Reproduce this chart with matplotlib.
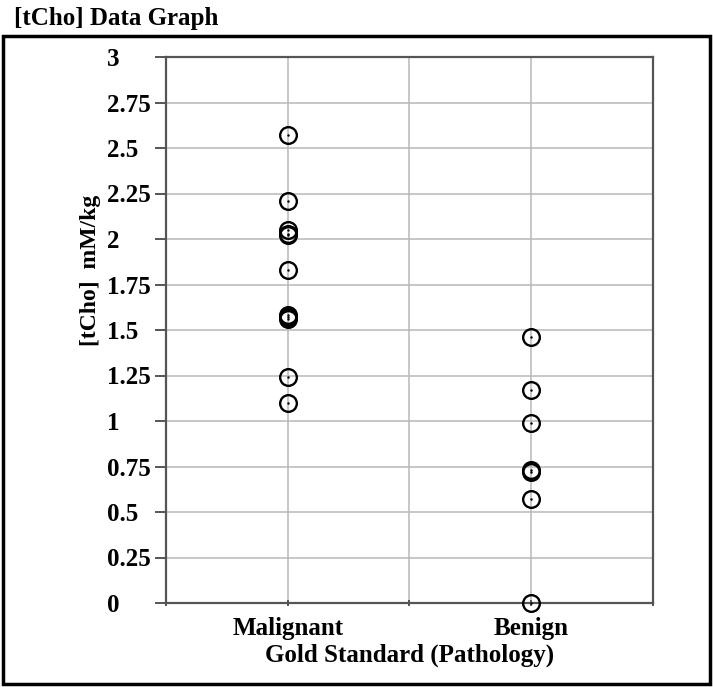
#!/usr/bin/env python3

import matplotlib.pyplot as plt
from matplotlib.patches import Rectangle
import numpy as np

categories = ["Malignant", "Benign"]
malignant = [2.57, 2.21, 2.05, 2.03, 2.02, 1.83, 1.58, 1.57, 1.56, 1.24, 1.10]
benign = [1.46, 1.17, 0.99, 0.73, 0.72, 0.57, 0.0]
yticks = np.arange(0, 3.01, 0.25)
ytick_labels = ["0", "0.25", "0.5", "0.75", "1", "1.25", "1.5", "1.75",
                "2", "2.25", "2.5", "2.75", "3"]

plt.rcParams['font.family'] = ['Liberation Serif', 'DejaVu Serif']
plt.rcParams['font.weight'] = 'bold'

W, H = 713, 687
fig = plt.figure(figsize=(W / 100, H / 100), dpi=100)
ax = fig.add_axes([166 / W, 1 - 603 / H, (653 - 166) / W, (603 - 57) / H])

# outer frame
fig.patches.append(Rectangle((3 / W, 1 - 684 / H), 707 / W, 648 / H,
                             transform=fig.transFigure, fill=False,
                             edgecolor='black', linewidth=2.5))
fig.text(14 / W, 1 - 18 / H, "[tCho] Data Graph", fontsize=18,
         fontweight='bold', ha='left', va='center')

#- Points
for i, vals in enumerate([malignant, benign]):
    xs = np.full(len(vals), i + 1)
    ax.plot(xs, vals, 'o', markersize=12, markerfacecolor='none',
            markeredgecolor='black', markeredgewidth=1.7, clip_on=False, zorder=3)
    ax.plot(xs, vals, '.', markersize=1.5, color='black', clip_on=False, zorder=4)

ax.set_xlim(0.5, 2.5)
ax.set_ylim(0, 3)
ax.set_xticks([0.5, 1, 1.5, 2, 2.5])
ax.set_xticklabels(["", categories[0], "", categories[1], ""])
ax.set_yticks(yticks)
ax.set_yticklabels(ytick_labels)
ax.grid(True, color='#b8b8b8', linewidth=1.1)
ax.set_axisbelow(True)

for s in ax.spines.values():
    s.set_color('#555555')
    s.set_linewidth(1.6)

ax.tick_params(axis='y', length=8, width=1.4, color='#555555', pad=34.5,
               labelsize=18)
ax.tick_params(axis='x', length=4, width=1.4, color='#555555', direction='inout',
               pad=8, labelsize=18)
plt.setp(ax.get_yticklabels(), ha='left')

ax.set_xlabel("Gold Standard (Pathology)", fontsize=18, fontweight='bold', labelpad=3)
ax.set_ylabel("[tCho]  mM/kg", fontsize=17, fontweight='bold')
ax.yaxis.set_label_coords(-0.133, 0.61)

fig.savefig("out.png", dpi=100)
